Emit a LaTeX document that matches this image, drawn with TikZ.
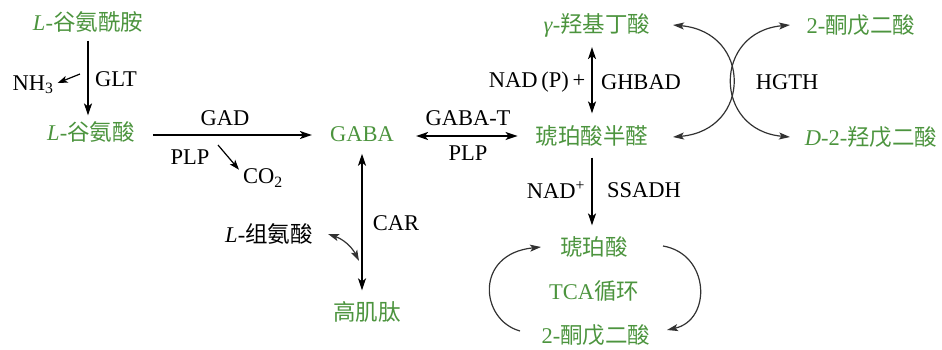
\documentclass[tikz,border=0pt]{standalone}
\usepackage{fontspec}
\setmainfont{Liberation Serif}
\newfontfamily\cjk[Scale=1.0]{Noto Sans CJK SC}
\usetikzlibrary{arrows.meta}
\definecolor{grn}{RGB}{76,148,62}
\definecolor{arcgray}{RGB}{50,50,50}
\newcommand\zh[1]{{\cjk #1}}
\tikzset{
  lbl/.style={font=\fontsize{22.5}{25}\selectfont, inner sep=0pt, anchor=center},
  chem/.style={lbl, text=grn},
  arr/.style={line width=1.5pt, -{Stealth[length=12pt,width=8pt,inset=3pt]}},
  darr/.style={line width=1.5pt, {Stealth[length=12pt,width=8pt,inset=3pt]}-{Stealth[length=12pt,width=8pt,inset=3pt]}},
  sarr/.style={line width=1.2pt, -{Stealth[length=10pt,width=7pt,inset=2.5pt]}},
  carr/.style={line width=1.2pt, draw=arcgray, {Stealth[length=11pt,width=7pt,inset=2.5pt]}-{Stealth[length=11pt,width=7pt,inset=2.5pt]}},
  cyc/.style={line width=1.2pt, draw=arcgray, -{Stealth[length=11pt,width=7pt,inset=2.5pt]}},
}
\begin{document}
\begin{tikzpicture}[x=1pt,y=-1pt]
\useasboundingbox (0,0) rectangle (942,349);
% nodes
\node[chem] (gln) at (88,22) {\textit{L}-\zh{谷氨酰胺}};
\node[chem] (glu) at (91,132) {\textit{L}-\zh{谷氨酸}};
\node[lbl] (glt) at (116,79) {GLT};
\node[lbl] (nh3) at (33,85) {NH\textsubscript{3}};
\node[lbl] (gad) at (225,118) {GAD};
\node[lbl] (plp1) at (190,157) {PLP};
\node[lbl] (co2) at (263,178) {CO\textsubscript{2}};
\node[chem] (gaba) at (362,134) {GABA};
\node[lbl] (gabat) at (468,118) {GABA-T};
\node[lbl] (plp2) at (468,153) {PLP};
\node[chem] (ssa) at (592,136) {\zh{琥珀酸半醛}};
\node[chem] (ghb) at (597,25) {\textit{γ}-\zh{羟基丁酸}};
\node[lbl] (nadp) at (537,82) {NAD\,(P)\,+};
\node[lbl] (ghbad) at (641,82) {GHBAD};
\node[lbl] (hgth) at (787,82) {HGTH};
\node[chem] (akg1) at (861,25) {2-\zh{酮戊二酸}};
\node[chem] (d2hg) at (871,137) {\textit{D}-2-\zh{羟戊二酸}};
\node[lbl] (nad) at (556,190) {NAD\textsuperscript{+}};
\node[lbl] (ssadh) at (644,190) {SSADH};
\node[chem] (suc) at (594,247) {\zh{琥珀酸}};
\node[chem] (tca) at (594,291) {TCA\zh{循环}};
\node[chem] (akg2) at (596,335) {2-\zh{酮戊二酸}};
\node[lbl] (car) at (396,223) {CAR};
\node[lbl] (his) at (269,234) {\textit{L}-\zh{组氨酸}};
\node[chem] (hca) at (367,312) {\zh{高肌肽}};
% free-end coordinates
\coordinate (nhs) at (80,74);
\coordinate (cos) at (218,145);
\coordinate (hisa) at (328,234);
\coordinate (cara) at (359,261);
\coordinate (la1) at (673,25);
\coordinate (la2) at (673,137);
\coordinate (ra1) at (790,25);
\coordinate (ra2) at (790,137);
\coordinate (tl1) at (520,331);
\coordinate (tl2) at (541,247);
\coordinate (tr1) at (663,246);
\coordinate (tr2) at (667,330);
% connectors
\draw[arr] ([yshift=-8pt]gln.south) -- ([yshift=6pt]gln.south |- glu.north);
\draw[sarr] (nhs) -- ([xshift=4pt,yshift=2pt]nh3.east);
\draw[arr] ([xshift=18pt,yshift=-3pt]glu.east) -- ([xshift=-18pt,yshift=-3pt]glu.east -| gaba.west);
\draw[sarr] (cos) -- ([xshift=-4pt,yshift=-1pt]co2.north west);
\draw[darr] ([xshift=22pt,yshift=-2pt]gaba.east) -- ([xshift=-18pt,yshift=-2pt]gaba.east -| ssa.west);
\draw[darr] ([yshift=-10pt]ghb.south -| ssa.north) -- ([yshift=12pt]ssa.north);
\draw[arr] ([yshift=-11pt]ssa.south) -- ([yshift=11pt]ssa.south |- suc.north);
\draw[darr] ([yshift=-12pt]gaba.south) -- ([yshift=11pt]gaba.south |- hca.north);
\draw[carr] (hisa) to[bend left=22] (cara);
\draw[carr] (la1) .. controls (752,32) and (752,130) .. (la2);
\draw[carr] (ra1) .. controls (713,32) and (713,130) .. (ra2);
\draw[cyc] (tl1) .. controls (480,320) and (474,254) .. (tl2);
\draw[cyc] (tr1) .. controls (710,254) and (712,320) .. (tr2);
\end{tikzpicture}
\end{document}
